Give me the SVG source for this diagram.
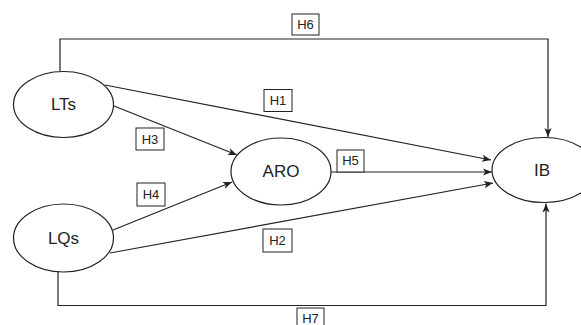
<svg xmlns="http://www.w3.org/2000/svg" width="581" height="325" viewBox="0 0 581 325">
<defs>
<style>
.node ellipse{fill:#fff;stroke:#222;stroke-width:1.2}
.node text{font-family:"Liberation Sans",Arial,sans-serif;font-size:17px;fill:#222;text-anchor:middle;dominant-baseline:central}
.conn path{fill:none;stroke:#222;stroke-width:1.2}
.lbl rect{fill:#fff;stroke:#222;stroke-width:1}
.lbl text{font-family:"Liberation Sans",Arial,sans-serif;font-size:13px;fill:#222;text-anchor:middle;dominant-baseline:central}
</style>
<marker id="arr" markerUnits="userSpaceOnUse" viewBox="0 0 10 10" refX="10" refY="5" markerWidth="9" markerHeight="9" orient="auto">
<path d="M0,1 L10,5 L0,9 L2.5,5 z" fill="#222"/>
</marker>
</defs>
<rect width="581" height="325" fill="#fff"/>
<g id="connectors" class="conn">
<path d="M60,71.5 V39 H548 V137" marker-end="url(#arr)"/>
<path d="M58,272 V305.5 H546 V203.5" marker-end="url(#arr)"/>
<path d="M105,85 L491,160" marker-end="url(#arr)"/>
<path d="M114,106 L237,155" marker-end="url(#arr)"/>
<path d="M113,230 L232,182" marker-end="url(#arr)"/>
<path d="M110,253 L493,183" marker-end="url(#arr)"/>
<path d="M331,172 L492,172" marker-end="url(#arr)"/>
</g>
<g id="labels" class="lbl">
<g id="lbl-H6"><rect x="292" y="14" width="27" height="21"/><text x="305.5" y="24.5">H6</text></g>
<g id="lbl-H1"><rect x="264" y="89.5" width="28" height="22"/><text x="278" y="100.5">H1</text></g>
<g id="lbl-H3"><rect x="136" y="128" width="28" height="22"/><text x="150" y="139">H3</text></g>
<g id="lbl-H5"><rect x="337" y="150" width="27" height="22"/><text x="350.5" y="160">H5</text></g>
<g id="lbl-H4"><rect x="137" y="183" width="28" height="23"/><text x="151" y="194.5">H4</text></g>
<g id="lbl-H2"><rect x="263" y="229" width="29" height="23"/><text x="277.5" y="240.5">H2</text></g>
<g id="lbl-H7"><rect x="297" y="308" width="27" height="22"/><text x="310.5" y="318">H7</text></g>
</g>
<g id="node-LTs" class="node"><ellipse cx="63.5" cy="104.5" rx="50" ry="33"/><text x="63.5" y="104.5">LTs</text></g>
<g id="node-LQs" class="node"><ellipse cx="63.5" cy="238" rx="50" ry="34"/><text x="63.5" y="238">LQs</text></g>
<g id="node-ARO" class="node"><ellipse cx="281" cy="171.5" rx="50" ry="33.5"/><text x="281" y="171.5">ARO</text></g>
<g id="node-IB" class="node"><ellipse cx="544" cy="170" rx="52" ry="32.5"/><text x="542" y="170">IB</text></g>
</svg>
